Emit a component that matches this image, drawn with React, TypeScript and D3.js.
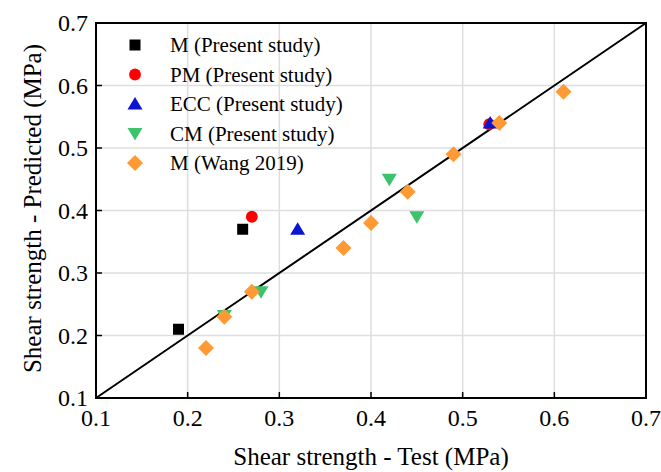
import * as d3 from "d3";

// series: [test, predicted]
const mPresent: [number, number][] = [
  [0.19, 0.21],
  [0.26, 0.37],
];
const pmPresent: [number, number][] = [
  [0.27, 0.39],
  [0.529, 0.538],
];
const eccPresent: [number, number][] = [
  [0.32, 0.37],
  [0.53, 0.54],
];
const cmPresent: [number, number][] = [
  [0.24, 0.232],
  [0.28, 0.27],
  [0.42, 0.45],
  [0.45, 0.39],
];
const mWang: [number, number][] = [
  [0.22, 0.18],
  [0.24, 0.23],
  [0.27, 0.27],
  [0.37, 0.34],
  [0.4, 0.38],
  [0.44, 0.43],
  [0.49, 0.49],
  [0.54, 0.54],
  [0.61, 0.59],
];
const ticks = [0.1, 0.2, 0.3, 0.4, 0.5, 0.6, 0.7];

const seriesList = [
  { name: "M (Present study)", data: mPresent, color: "#000000", shape: "square" },
  { name: "PM (Present study)", data: pmPresent, color: "#ff0000", shape: "circle" },
  { name: "ECC (Present study)", data: eccPresent, color: "#0a14d2", shape: "up" },
  { name: "CM (Present study)", data: cmPresent, color: "#3cc36c", shape: "down" },
  { name: "M (Wang 2019)", data: mWang, color: "#ff9933", shape: "diamond" },
];

const FONT = "Times New Roman";

const symbolPath = (shape: string) => {
  if (shape === "square") return "M-5.5,-5.5h11v11h-11z";
  if (shape === "circle") return d3.symbol(d3.symbolCircle, 110)()!;
  if (shape === "up") return "M0,-7L7.5,5.5L-7.5,5.5Z";
  if (shape === "down") return "M0,7L7.5,-5.5L-7.5,-5.5Z";
  return "M0,-8L8,0L0,8L-8,0Z";
};

export default function App() {
  const x = d3.scaleLinear().domain([0.1, 0.7]).range([96, 646]);
  const y = d3.scaleLinear().domain([0.1, 0.7]).range([398, 23]);
  const inner = ticks.slice(1, -1);

  return (
    <svg width={661} height={472} style={{ position: "absolute", left: 0, top: 0 }}>
      {/* grid */}
      <g stroke="#dedede" strokeWidth={1.5}>
        {inner.map((d) => (
          <line key={"gx" + d} x1={x(d)} x2={x(d)} y1={y(0.1)} y2={y(0.7)} />
        ))}
        {inner.map((d) => (
          <line key={"gy" + d} y1={y(d)} y2={y(d)} x1={x(0.1)} x2={x(0.7)} />
        ))}
      </g>

      {/* 1:1 line */}
      <line x1={x(0.1)} y1={y(0.1)} x2={x(0.7)} y2={y(0.7)} stroke="#000" strokeWidth={2} />

      {/* inward ticks */}
      <g stroke="#000" strokeWidth={1.5}>
        {ticks.map((d) => (
          <line key={"tx" + d} x1={x(d)} x2={x(d)} y1={y(0.1)} y2={y(0.1) - 6} />
        ))}
        {ticks.map((d) => (
          <line key={"ty" + d} y1={y(d)} y2={y(d)} x1={x(0.1)} x2={x(0.1) + 6} />
        ))}
      </g>

      {/* points */}
      {seriesList.map((s) => (
        <g key={s.name} fill={s.color}>
          {s.data.map((d, i) => (
            <path key={i} d={symbolPath(s.shape)} transform={`translate(${x(d[0])},${y(d[1])})`} />
          ))}
        </g>
      ))}

      {/* frame */}
      <rect
        x={x(0.1)}
        y={y(0.7)}
        width={x(0.7) - x(0.1)}
        height={y(0.1) - y(0.7)}
        fill="none"
        stroke="#000"
        strokeWidth={2}
      />

      {/* tick labels */}
      {ticks.map((d) => (
        <text key={"lx" + d} x={x(d)} y={426} textAnchor="middle" fontSize={24} fontFamily={FONT}>
          {d.toFixed(1)}
        </text>
      ))}
      {ticks.map((d) => (
        <text key={"ly" + d} x={88} y={y(d) + 8} textAnchor="end" fontSize={24} fontFamily={FONT}>
          {d.toFixed(1)}
        </text>
      ))}

      {/* axis titles */}
      <text x={371} y={465} textAnchor="middle" fontSize={25} fontFamily={FONT}>
        Shear strength - Test (MPa)
      </text>
      <text
        transform={`translate(41,${(23 + 398) / 2 - 2}) rotate(-90)`}
        textAnchor="middle"
        fontSize={25}
        fontFamily={FONT}
      >
        Shear strength - Predicted (MPa)
      </text>

      {/* legend */}
      {seriesList.map((s, i) => (
        <g key={"lg" + s.name} transform={`translate(135,${45 + i * 29.5})`}>
          <path d={symbolPath(s.shape)} fill={s.color} />
          <text x={35} y={7} fontSize={21} fontFamily={FONT}>
            {s.name}
          </text>
        </g>
      ))}
    </svg>
  );
}
